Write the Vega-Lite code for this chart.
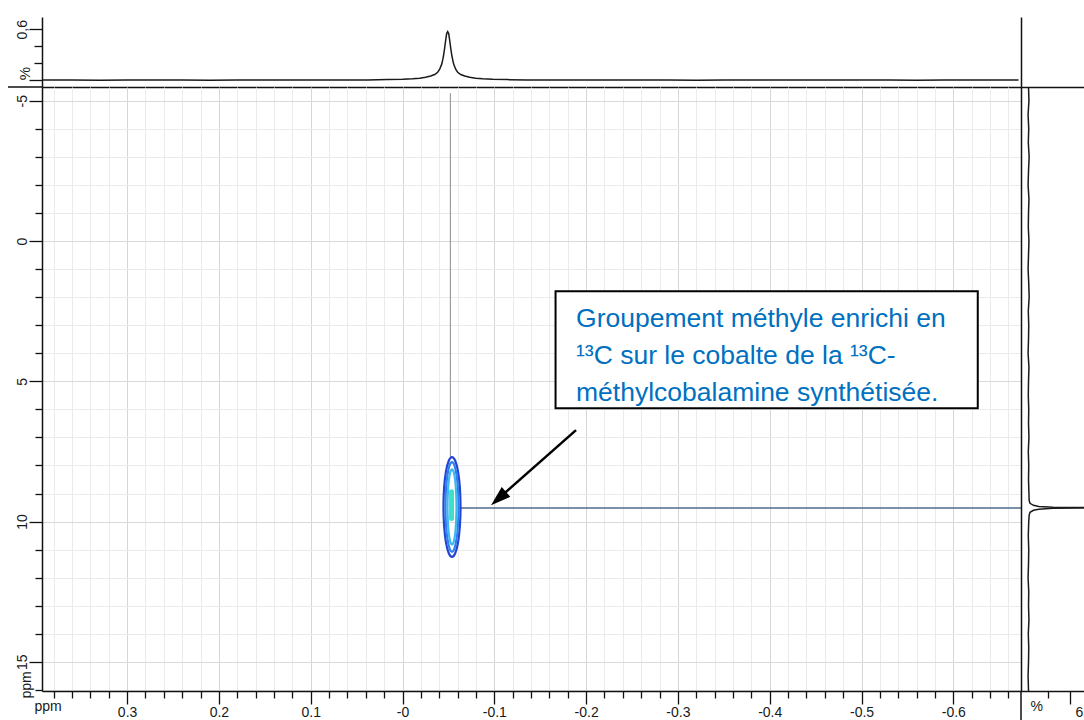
{
  "$schema": "https://vega.github.io/schema/vega-lite/v6.json",
  "background": "white",
  "padding": {"left": 7, "top": 17, "right": 0, "bottom": 0},
  "columns": 2,
  "spacing": 0,
  "bounds": "flush",
  "align": "each",
  "config": {
    "view": {"stroke": null},
    "font": "Liberation Sans",
    "axis": {
      "labelFont": "Liberation Sans", "titleFont": "Liberation Sans",
      "labelColor": "#1a1a1a", "titleColor": "#1a1a1a",
      "domainColor": "#111111", "tickColor": "#111111",
      "domainWidth": 1.5, "tickWidth": 1.3,
      "labelFontSize": 14, "titleFontSize": 14, "titleFontWeight": "normal",
      "labelOverlap": false, "labelFlush": false, "zindex": 0
    }
  },
  "datasets": {
    "top": [
      {"x": 0.393, "v": 0.003}, {"x": 0.36, "v": 0.004}, {"x": 0.33, "v": 0.002}, {"x": 0.3, "v": 0.005},
      {"x": 0.27, "v": 0.003}, {"x": 0.24, "v": 0.004}, {"x": 0.21, "v": 0.002}, {"x": 0.18, "v": 0.004},
      {"x": 0.15, "v": 0.003}, {"x": 0.12, "v": 0.005}, {"x": 0.09, "v": 0.003}, {"x": 0.06, "v": 0.004},
      {"x": 0.0379, "v": 0.005}, {"x": 0.0162, "v": 0.008}, {"x": -0.0002, "v": 0.012}, {"x": -0.0111, "v": 0.018},
      {"x": -0.0187, "v": 0.025}, {"x": -0.0252, "v": 0.035}, {"x": -0.0307, "v": 0.05}, {"x": -0.035, "v": 0.068},
      {"x": -0.0383, "v": 0.095}, {"x": -0.0405, "v": 0.13}, {"x": -0.0427, "v": 0.19}, {"x": -0.0438, "v": 0.24},
      {"x": -0.0448, "v": 0.3}, {"x": -0.0459, "v": 0.38}, {"x": -0.047, "v": 0.47}, {"x": -0.0481, "v": 0.55},
      {"x": -0.0492, "v": 0.572},
      {"x": -0.0503, "v": 0.55}, {"x": -0.0514, "v": 0.47}, {"x": -0.0525, "v": 0.38}, {"x": -0.0536, "v": 0.3},
      {"x": -0.0547, "v": 0.24}, {"x": -0.0557, "v": 0.19}, {"x": -0.0579, "v": 0.13}, {"x": -0.0601, "v": 0.095},
      {"x": -0.0634, "v": 0.068}, {"x": -0.0677, "v": 0.05}, {"x": -0.0732, "v": 0.035}, {"x": -0.0797, "v": 0.025},
      {"x": -0.0873, "v": 0.018}, {"x": -0.0982, "v": 0.012}, {"x": -0.1146, "v": 0.008}, {"x": -0.1363, "v": 0.005},
      {"x": -0.17, "v": 0.004}, {"x": -0.2, "v": 0.003}, {"x": -0.23, "v": 0.005}, {"x": -0.26, "v": 0.003},
      {"x": -0.29, "v": 0.004}, {"x": -0.32, "v": 0.002}, {"x": -0.35, "v": 0.004}, {"x": -0.38, "v": 0.003},
      {"x": -0.41, "v": 0.005}, {"x": -0.44, "v": 0.003}, {"x": -0.47, "v": 0.004}, {"x": -0.5, "v": 0.003},
      {"x": -0.53, "v": 0.004}, {"x": -0.56, "v": 0.002}, {"x": -0.59, "v": 0.004}, {"x": -0.62, "v": 0.003},
      {"x": -0.65, "v": 0.004}, {"x": -0.671, "v": 0.003}
    ],
    "topEdge": [{"x": 0.4297, "x2": 0.3927, "v": -0.0788}],
    "right": [
      {"y": -5.49, "v": 0.07}, {"y": -5.0, "v": 0.09}, {"y": -4.5, "v": 0.05}, {"y": -4.0, "v": 0.08},
      {"y": -3.5, "v": 0.06}, {"y": -3.0, "v": 0.1}, {"y": -2.5, "v": 0.07}, {"y": -2.0, "v": 0.05},
      {"y": -1.5, "v": 0.09}, {"y": -1.0, "v": 0.07}, {"y": -0.5, "v": 0.06}, {"y": 0.0, "v": 0.09},
      {"y": 0.5, "v": 0.07}, {"y": 1.0, "v": 0.05}, {"y": 1.5, "v": 0.08}, {"y": 2.0, "v": 0.1},
      {"y": 2.5, "v": 0.06}, {"y": 3.0, "v": 0.08}, {"y": 3.5, "v": 0.07}, {"y": 4.0, "v": 0.05},
      {"y": 4.5, "v": 0.09}, {"y": 5.0, "v": 0.07}, {"y": 5.5, "v": 0.06}, {"y": 6.0, "v": 0.08},
      {"y": 6.5, "v": 0.07}, {"y": 7.0, "v": 0.09}, {"y": 7.5, "v": 0.06}, {"y": 8.0, "v": 0.08},
      {"y": 8.5, "v": 0.07}, {"y": 9.0, "v": 0.09}, {"y": 9.25, "v": 0.1}, {"y": 9.35, "v": 0.14},
      {"y": 9.42, "v": 0.3}, {"y": 9.46, "v": 0.55}, {"y": 9.49, "v": 1.2}, {"y": 9.51, "v": 4.5},
      {"y": 9.53, "v": 1.2}, {"y": 9.56, "v": 0.55}, {"y": 9.6, "v": 0.3}, {"y": 9.67, "v": 0.14},
      {"y": 9.77, "v": 0.1}, {"y": 10.0, "v": 0.08}, {"y": 10.5, "v": 0.06}, {"y": 11.0, "v": 0.08},
      {"y": 11.5, "v": 0.07}, {"y": 12.0, "v": 0.05}, {"y": 12.5, "v": 0.08}, {"y": 13.0, "v": 0.07},
      {"y": 13.5, "v": 0.09}, {"y": 14.0, "v": 0.06}, {"y": 14.5, "v": 0.08}, {"y": 15.0, "v": 0.07},
      {"y": 15.5, "v": 0.05}, {"y": 16.04, "v": 0.07}
    ],
    "rightEdge": [{"v": -0.28, "y": 16.04, "y2": 17.08}],
    "contours": [
      {"level": "c1", "k": 0, "x": -0.0446, "y": 9.48}, {"level": "c1", "k": 1, "x": -0.0453, "y": 10.16},
      {"level": "c1", "k": 2, "x": -0.0473, "y": 10.74}, {"level": "c1", "k": 3, "x": -0.0503, "y": 11.12},
      {"level": "c1", "k": 4, "x": -0.0539, "y": 11.26}, {"level": "c1", "k": 5, "x": -0.0575, "y": 11.12},
      {"level": "c1", "k": 6, "x": -0.0605, "y": 10.74}, {"level": "c1", "k": 7, "x": -0.0625, "y": 10.16},
      {"level": "c1", "k": 8, "x": -0.0632, "y": 9.48}, {"level": "c1", "k": 9, "x": -0.0625, "y": 8.8},
      {"level": "c1", "k": 10, "x": -0.0605, "y": 8.22}, {"level": "c1", "k": 11, "x": -0.0575, "y": 7.84},
      {"level": "c1", "k": 12, "x": -0.0539, "y": 7.7}, {"level": "c1", "k": 13, "x": -0.0503, "y": 7.84},
      {"level": "c1", "k": 14, "x": -0.0473, "y": 8.22}, {"level": "c1", "k": 15, "x": -0.0453, "y": 8.8},
      {"level": "c2", "k": 0, "x": -0.0468, "y": 9.48}, {"level": "c2", "k": 1, "x": -0.0473, "y": 10.09},
      {"level": "c2", "k": 2, "x": -0.0489, "y": 10.61}, {"level": "c2", "k": 3, "x": -0.0512, "y": 10.96},
      {"level": "c2", "k": 4, "x": -0.0539, "y": 11.08}, {"level": "c2", "k": 5, "x": -0.0566, "y": 10.96},
      {"level": "c2", "k": 6, "x": -0.0589, "y": 10.61}, {"level": "c2", "k": 7, "x": -0.0605, "y": 10.09},
      {"level": "c2", "k": 8, "x": -0.061, "y": 9.48}, {"level": "c2", "k": 9, "x": -0.0605, "y": 8.87},
      {"level": "c2", "k": 10, "x": -0.0589, "y": 8.35}, {"level": "c2", "k": 11, "x": -0.0566, "y": 8.0},
      {"level": "c2", "k": 12, "x": -0.0539, "y": 7.88}, {"level": "c2", "k": 13, "x": -0.0512, "y": 8.0},
      {"level": "c2", "k": 14, "x": -0.0489, "y": 8.35}, {"level": "c2", "k": 15, "x": -0.0473, "y": 8.87},
      {"level": "c3", "k": 0, "x": -0.049, "y": 9.48}, {"level": "c3", "k": 1, "x": -0.0494, "y": 9.99},
      {"level": "c3", "k": 2, "x": -0.0504, "y": 10.43}, {"level": "c3", "k": 3, "x": -0.052, "y": 10.72},
      {"level": "c3", "k": 4, "x": -0.0539, "y": 10.82}, {"level": "c3", "k": 5, "x": -0.0558, "y": 10.72},
      {"level": "c3", "k": 6, "x": -0.0574, "y": 10.43}, {"level": "c3", "k": 7, "x": -0.0584, "y": 9.99},
      {"level": "c3", "k": 8, "x": -0.0588, "y": 9.48}, {"level": "c3", "k": 9, "x": -0.0584, "y": 8.97},
      {"level": "c3", "k": 10, "x": -0.0574, "y": 8.53}, {"level": "c3", "k": 11, "x": -0.0558, "y": 8.24},
      {"level": "c3", "k": 12, "x": -0.0539, "y": 8.14}, {"level": "c3", "k": 13, "x": -0.052, "y": 8.24},
      {"level": "c3", "k": 14, "x": -0.0504, "y": 8.53}, {"level": "c3", "k": 15, "x": -0.0494, "y": 8.97}
    ],
    "core": [{"x": -0.0534, "y": 8.94, "y2": 9.89}],
    "vline": [{"x": -0.0521, "y": -5.27, "y2": 7.7}],
    "hline": [{"x": -0.0615, "x2": -0.6737, "y": 9.52}],
    "box": [{"x": -0.1667, "x2": -0.6266, "y": 1.79, "y2": 5.96}],
    "note": [{"x": -0.189, "y": 3.07, "label": "Groupement méthyle enrichi en\n¹³C sur le cobalte de la ¹³C-\nméthylcobalamine synthétisée."}],
    "shaft": [{"x": -0.189, "y": 6.74, "x2": -0.1046, "y2": 9.18}],
    "head": [{"x": -0.1046, "y": 9.18}]
  },
  "concat": [
    {
      "width": 979, "height": 70,
      "encoding": {
        "x": {"field": "x", "type": "quantitative",
              "scale": {"domain": [0.3927, -0.6737], "nice": false, "zero": false},
              "axis": {"orient": "bottom", "ticks": false, "labels": false, "grid": false, "title": null}},
        "y": {"field": "v", "type": "quantitative",
              "scale": {"domain": [-0.0788, 0.7447], "nice": false, "zero": false},
              "axis": {"orient": "left", "values": [0, 0.2, 0.4, 0.6],
                       "tickSize": {"condition": {"test": "datum.value < 0.1 || datum.value > 0.5", "value": 13}, "value": 8},
                       "labelExpr": "datum.value > 0.5 ? '0,6' : ''",
                       "labelAngle": -90, "labelAlign": "center", "labelBaseline": "bottom", "labelPadding": 0,
                       "grid": false, "title": "%", "titleAngle": -90, "titleX": -18, "titleY": 56,
                       "titleAlign": "center", "titleBaseline": "middle", "titleFontSize": 15}}
      },
      "layer": [
        {"data": {"name": "top"}, "mark": {"type": "line", "color": "#1a1a1a", "strokeWidth": 1.5, "clip": true}},
        {"data": {"name": "topEdge"}, "mark": {"type": "rule", "color": "#111111", "strokeWidth": 1.5, "clip": false},
         "encoding": {"x2": {"field": "x2"}}}
      ]
    },
    {
      "width": 64, "height": 70,
      "data": {"values": [{"a": 0.5, "b": 0.5}]},
      "mark": {"type": "point", "opacity": 0},
      "encoding": {
        "x": {"field": "a", "type": "quantitative", "scale": {"domain": [0, 1]},
              "axis": {"orient": "bottom", "ticks": false, "labels": false, "grid": false, "title": null}},
        "y": {"field": "b", "type": "quantitative", "scale": {"domain": [0, 1]},
              "axis": {"orient": "left", "ticks": false, "labels": false, "grid": false, "title": null}}
      }
    },
    {
      "width": 979, "height": 604,
      "encoding": {
        "x": {"field": "x", "type": "quantitative",
              "scale": {"domain": [0.3927, -0.6737], "nice": false, "zero": false},
              "axis": {"orient": "bottom",
                       "values": [0.38, 0.36, 0.34, 0.32, 0.3, 0.28, 0.26, 0.24, 0.22, 0.2, 0.18, 0.16, 0.14, 0.12, 0.1, 0.08, 0.06, 0.04, 0.02, 0, -0.02, -0.04, -0.06, -0.08, -0.1, -0.12, -0.14, -0.16, -0.18, -0.2, -0.22, -0.24, -0.26, -0.28, -0.3, -0.32, -0.34, -0.36, -0.38, -0.4, -0.42, -0.44, -0.46, -0.48, -0.5, -0.52, -0.54, -0.56, -0.58, -0.6, -0.62, -0.64, -0.66],
                       "tickSize": {"condition": {"test": "abs(datum.value*10 - round(datum.value*10)) < 0.01", "value": 13}, "value": 7},
                       "labelExpr": "abs(datum.value*10 - round(datum.value*10)) < 0.01 ? (abs(datum.value) < 0.001 ? '-0' : (datum.value < 0 ? '-' : '') + format(abs(datum.value), '.1f')) : ''",
                       "labelPadding": 1,
                       "grid": true,
                       "gridColor": {"condition": {"test": "abs(datum.value*10 - round(datum.value*10)) < 0.01", "value": "#d6d6d6"}, "value": "#ebebeb"},
                       "gridWidth": 1,
                       "title": "ppm", "titleX": -8, "titleY": 15, "titleAlign": "left", "titleBaseline": "middle"}},
        "y": {"field": "y", "type": "quantitative",
              "scale": {"domain": [-5.49, 16.04], "reverse": true, "nice": false, "zero": false},
              "axis": {"orient": "left",
                       "values": [-5, -4, -3, -2, -1, 0, 1, 2, 3, 4, 5, 6, 7, 8, 9, 10, 11, 12, 13, 14, 15, 16],
                       "tickSize": {"condition": {"test": "datum.value % 5 == 0", "value": 13}, "value": 7},
                       "labelExpr": "datum.value % 5 == 0 ? toString(datum.value) : ''",
                       "labelAngle": -90, "labelAlign": "center", "labelBaseline": "bottom", "labelPadding": 0,
                       "grid": true,
                       "gridColor": {"condition": {"test": "datum.value % 5 == 0", "value": "#d9d9d9"}, "value": "#ebebeb"},
                       "gridWidth": 1,
                       "title": "ppm", "titleAngle": -90, "titleX": -16, "titleY": 611,
                       "titleAlign": "left", "titleBaseline": "middle"}}
      },
      "layer": [
        {"data": {"name": "vline"}, "mark": {"type": "rule", "color": "#8c8c8c", "strokeWidth": 1},
         "encoding": {"y2": {"field": "y2"}}},
        {"data": {"name": "hline"}, "mark": {"type": "rule", "color": "#4d6b8a", "strokeWidth": 1.5},
         "encoding": {"x2": {"field": "x2"}}},
        {"data": {"name": "contours"},
         "mark": {"type": "line", "interpolate": "cardinal-closed", "strokeWidth": 2.2},
         "encoding": {
           "color": {"field": "level", "type": "nominal", "legend": null,
                     "scale": {"domain": ["c1", "c2", "c3"], "range": ["#2444d6", "#2f80ea", "#3bb8f2"]}},
           "detail": {"field": "level"},
           "order": {"field": "k", "type": "quantitative"}
         }},
        {"data": {"name": "core"}, "mark": {"type": "rule", "color": "#3fe0c8", "strokeWidth": 5, "strokeCap": "round"},
         "encoding": {"y2": {"field": "y2"}}},
        {"data": {"name": "box"}, "mark": {"type": "rect", "fill": "white", "stroke": "#000000", "strokeWidth": 2},
         "encoding": {"x2": {"field": "x2"}, "y2": {"field": "y2"}}},
        {"data": {"name": "note"},
         "mark": {"type": "text", "align": "left", "baseline": "alphabetic", "font": "Liberation Sans",
                  "fontSize": 26.5, "color": "#0070c0", "lineBreak": "\n", "lineHeight": 37},
         "encoding": {"text": {"field": "label"}}},
        {"data": {"name": "shaft"}, "mark": {"type": "rule", "color": "#000000", "strokeWidth": 2.5},
         "encoding": {"x2": {"field": "x2"}, "y2": {"field": "y2"}}},
        {"data": {"name": "head"},
         "mark": {"type": "point", "shape": "M0,-1L0.65,1L-0.65,1Z", "size": 400, "angle": 228.6,
                  "filled": true, "color": "#000000", "opacity": 1, "strokeWidth": 0}}
      ]
    },
    {
      "width": 64, "height": 604,
      "encoding": {
        "x": {"field": "v", "type": "quantitative",
              "scale": {"domain": [-0.28, 2.7], "nice": false, "zero": false},
              "axis": {"orient": "bottom", "values": [1, 2],
                       "tickSize": {"condition": {"test": "datum.value > 1.5", "value": 13}, "value": 7},
                       "labelExpr": "datum.value > 1.5 ? '6' : ''",
                       "labelAlign": "left", "labelOffset": 5, "labelPadding": 1, "grid": false,
                       "title": "%", "titleX": 9, "titleY": 15, "titleAlign": "left", "titleBaseline": "middle"}},
        "y": {"field": "y", "type": "quantitative",
              "scale": {"domain": [-5.49, 16.04], "reverse": true, "nice": false, "zero": false},
              "axis": {"orient": "left", "ticks": false, "labels": false, "grid": false, "title": null}}
      },
      "layer": [
        {"data": {"name": "right"}, "mark": {"type": "line", "color": "#1a1a1a", "strokeWidth": 1.5, "clip": true},
         "encoding": {"order": {"field": "y", "type": "quantitative"}}},
        {"data": {"name": "rightEdge"}, "mark": {"type": "rule", "color": "#111111", "strokeWidth": 1.5, "clip": false},
         "encoding": {"y2": {"field": "y2"}}}
      ]
    }
  ]
}
